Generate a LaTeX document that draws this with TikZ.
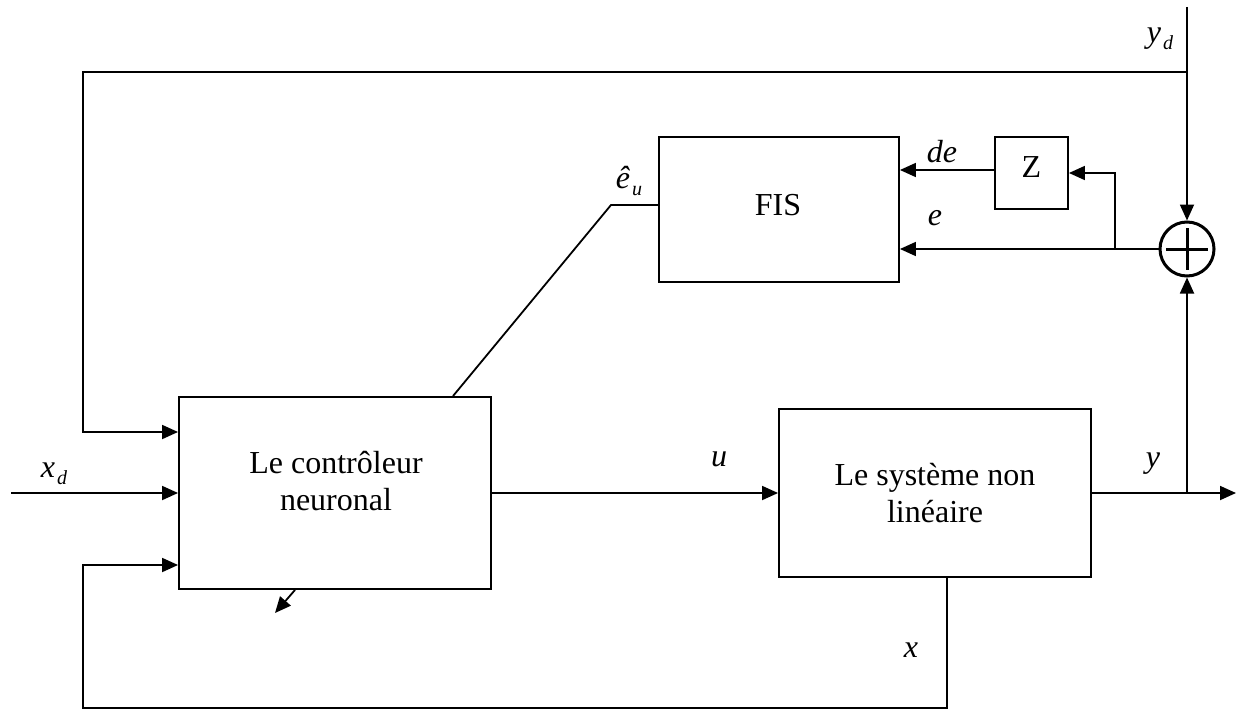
\documentclass[tikz,border=0pt]{standalone}
\usepackage{fontspec}
\setmainfont{Liberation Serif}
\usetikzlibrary{arrows.meta}
\newcommand{\mysub}[1]{\kern2pt\raisebox{-7pt}{\fontsize{20}{20}\selectfont #1}}
\begin{document}
\begin{tikzpicture}[x=1pt,y=-1pt,
  line width=1.8pt,
  box/.style={draw, line width=1.9pt, inner sep=0pt, align=center, font=\fontsize{32}{37}\selectfont},
  txt/.style={inner sep=0pt, align=center, font=\fontsize{32}{37}\selectfont},
  lbl/.style={inner sep=0pt, anchor=base, font=\fontsize{32}{37}\selectfont\itshape},
  arr/.style={-{Triangle[length=16pt,width=14pt]}}]
\useasboundingbox (0,0) rectangle (1236,709);

% blocks
\node[box, minimum width=312, minimum height=192] (ctrl) at (335,493) {};
\node[txt] (ctrltxt) at (336,481.5) {Le contrôleur\\neuronal};
\node[box, minimum width=312, minimum height=168] (sys) at (935,493) {Le système non\\linéaire};
\node[box, minimum width=240, minimum height=145] (fis) at (779,209.5) {};
\node[txt] (fistxt) at (778,205.5) {FIS};
\node[box, minimum width=73, minimum height=72] (z) at (1031.5,173) {};
\node[txt] (ztxt) at (1031.5,167.5) {Z};
\node[draw, circle, line width=3pt, minimum size=54, inner sep=0pt] (sum) at (1187,249) {};
\draw[line width=3pt] (sum.center) ++(-21,0) -- ++(42,0);
\draw[line width=3pt] (sum.center) ++(0,-21) -- ++(0,42);

% coordinates
\coordinate (ydtop) at (1187,7);
\coordinate (tl) at (83,72);
\coordinate (r1) at (0,432);
\coordinate (r3) at (0,565);
\coordinate (xdin) at (11,493);
\coordinate (yout) at (1236,493);
\coordinate (yj) at (1187,493);
\coordinate (ej) at (1115,249);
\coordinate (dey) at (0,170);
\coordinate (xcol) at (947,708);
\coordinate (bl) at (83,708);
\coordinate (kink) at (611,205);
\coordinate (diagx) at (453,0);
\coordinate (sa1) at (295,0);
\coordinate (sa2) at (275,613);

% connectors
\draw[arr] (ydtop) -- (sum.north);
\draw[arr] (ydtop |- tl) -- (tl) -- (tl |- r1) -- (ctrl.west |- r1);
\draw[arr] (xdin) -- (ctrl.west);
\draw[arr] (sys.south -| xcol) -- (xcol) -- (bl) -- (bl |- r3) -- (ctrl.west |- r3);
\draw[arr] (ctrl.east) -- (sys.west);
\draw[arr] (sys.east) -- (yout);
\draw[arr] (yj) -- (sum.south);
\draw[arr] (sum.west) -- (fis.east |- sum.west);
\draw[arr] (ej) |- (z.east);
\draw[arr] (z.west |- dey) -- (fis.east |- dey);
\draw (fis.west |- kink) -- (kink) -- (ctrl.north -| diagx);
\draw[arr] (ctrl.south -| sa1) -- (sa2);

% labels
\node[lbl, anchor=base west] (lyd) at (1146,43) {y\mysub{d}};
\node[lbl, anchor=base west] (lxd) at (40,477) {x\mysub{d}};
\node[lbl, anchor=base west] (leu) at (615,188) {ê\mysub{u}};
\node[lbl] (lde) at (942,162) {de};
\node[lbl] (le) at (935,225) {e};
\node[lbl] (lu) at (719,466) {u};
\node[lbl] (ly) at (1153,467) {y};
\node[lbl] (lx) at (911,657) {x};
\end{tikzpicture}
\end{document}
